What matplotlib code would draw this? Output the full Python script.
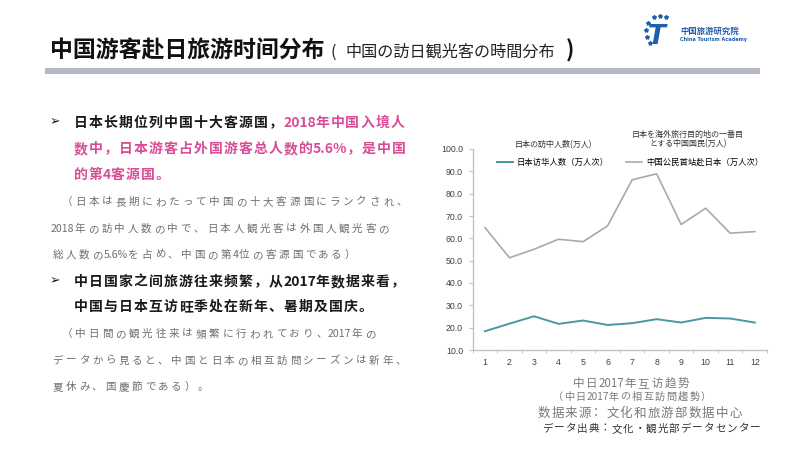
import matplotlib
matplotlib.use("Agg")
import matplotlib.pyplot as plt
from matplotlib.patches import Rectangle
from matplotlib.lines import Line2D

plt.rcParams['font.family'] = ['Noto Sans CJK SC', 'DejaVu Sans']
JP = ['Noto Sans CJK JP', 'DejaVu Sans']

# data (万人)
months = [1, 2, 3, 4, 5, 6, 7, 8, 9, 10, 11, 12]
jp_to_cn = [18.4, 21.8, 25.1, 21.7, 23.2, 21.2, 22.0, 23.8, 22.3, 24.4, 24.1, 22.3]
cn_to_jp = [64.8, 51.3, 55.1, 59.6, 58.5, 65.6, 86.2, 88.9, 66.2, 73.5, 62.3, 63.0]
yticks = [10, 20, 30, 40, 50, 60, 70, 80, 90, 100]
names = ['日本访华人数（万人次）', '中国公民首站赴日本（万人次）']

W, H = 800, 450
fig = plt.figure(figsize=(8, 4.5), dpi=100)
fig.patch.set_facecolor('white')
r = fig.canvas.get_renderer()


def px(x, y):
    return x / W, 1 - y / H


def spaced(x, y, s, size, color, pitch, weight='normal', family=None, style='normal'):
    # full width chars sit on a fixed pitch, ascii runs keep natural width
    fam = family if family else plt.rcParams['font.family']
    base = y + 0.36 * size * 100 / 72
    i = 0
    while i < len(s):
        if ord(s[i]) < 128:
            j = i
            while j < len(s) and ord(s[j]) < 128:
                j += 1
            t = fig.text(*px(x, base), s[i:j], fontsize=size, color=color, weight=weight,
                         family=fam, style=style, va='baseline', ha='left')
            x += t.get_window_extent(r).width - 1
            i = j
        else:
            fig.text(*px(x + pitch / 2, base), s[i], fontsize=size, color=color, weight=weight,
                     family=fam, style=style, va='baseline', ha='center')
            x += pitch
            i += 1
    return x


# title
fig.text(*px(50, 51), '中国游客赴日旅游时间分布', fontsize=16.5, weight='bold',
         color='#111111', va='center')
fig.text(*px(331, 52), '(', fontsize=12, color='#222222', va='center', family=JP)
fig.text(*px(345, 52), '中国の訪日観光客の時間分布', fontsize=11.6, color='#222222',
         va='center', family=JP)
fig.text(*px(566, 51), ')', fontsize=16, weight='bold', color='#111111', va='center')
fig.add_artist(Rectangle(px(45, 74), 715 / W, 6 / H, transform=fig.transFigure,
                         color='#b4b8c2', lw=0))

# logo
fig.text(*px(657, 37), 'T', fontsize=19, weight='bold', style='italic', color='#1f5fae',
         va='center', ha='center', family=['DejaVu Sans'])
star_x = [654, 660, 666, 648, 646, 647, 650]
star_y = [17, 16, 17, 23, 30, 37, 43]
fig.add_artist(Line2D([v / W for v in star_x], [1 - v / H for v in star_y], ls='none',
                      marker='*', ms=3, color='#1f5fae', transform=fig.transFigure))
fig.text(*px(680, 31), '中国旅游研究院', fontsize=6, weight='bold', color='#1f5fae', va='center')
fig.text(*px(680, 40), 'China Tourism Academy', fontsize=3.6, weight='bold', color='#1f5fae',
         va='center', family=['DejaVu Sans'])

# text block
black = '#1a1a1a'
pink = '#d84c98'
grey = '#707070'
for by in [122, 281]:
    fig.text(*px(50, by), '➢', fontsize=9, color=black, va='center', family=['DejaVu Sans'])

x = spaced(73, 122, '日本长期位列中国十大客源国，', 10, black, 15, 'bold')
spaced(x, 122, '2018年中国入境人', 10, pink, 15, 'bold')
spaced(73, 148, '数中，日本游客占外国游客总人数的5.6%，是中国', 10, pink, 15, 'bold')
spaced(73, 174, '的第4客源国。', 10, pink, 15, 'bold')
spaced(60, 201, '（日本は長期にわたって中国の十大客源国にランクされ、', 7.6, grey, 13.4, family=JP)
spaced(51, 228, '2018年の訪中人数の中で、日本人観光客は外国人観光客の', 7.6, grey, 13.2, family=JP)
spaced(51, 254, '総人数の5.6%を占め、中国の第4位の客源国である）', 7.6, grey, 13.2, family=JP)

spaced(73, 281, '中日国家之间旅游往来频繁，从2017年数据来看，', 10, black, 15, 'bold')
spaced(73, 306, '中国与日本互访旺季处在新年、暑期及国庆。', 10, black, 15, 'bold')
spaced(60, 333, '（中日間の観光往来は頻繁に行われており、2017年の', 7.6, grey, 13.4, family=JP)
spaced(51, 360, 'データから見ると、中国と日本の相互訪問シーズンは新年、', 7.6, grey, 13.2, family=JP)
spaced(51, 386, '夏休み、国慶節である）。', 7.6, grey, 13.2, family=JP)

# chart
ax = fig.add_axes([472.7 / W, 1 - 350 / H, (767 - 472.7) / W, (350 - 149) / H])
ax.plot(months, jp_to_cn, color='#4a97a6', lw=1.4, label=names[0])
ax.plot(months, cn_to_jp, color='#a9a9a9', lw=1.2, label=names[1])
ax.set_xlim(0.5, 12.5)
ax.set_ylim(10, 100)
ax.set_yticks(yticks)
ax.set_yticklabels(['%.1f' % v for v in yticks], family=['Liberation Sans'])
ax.set_xticks(months)
ax.set_xticklabels([str(m) for m in months], family=['Liberation Sans'])
ax.set_xticks([m - 0.5 for m in months] + [12.5], minor=True)
ax.tick_params(axis='x', which='major', length=0, pad=6, labelsize=6.3, colors='#404040')
ax.tick_params(axis='x', which='minor', length=2.5, color='#bfbfbf', direction='out')
ax.tick_params(axis='y', length=3, pad=4, labelsize=6.3, colors='#404040', color='#bfbfbf')
for s in ['top', 'right']:
    ax.spines[s].set_visible(False)
for s in ['left', 'bottom']:
    ax.spines[s].set_color('#bfbfbf')
    ax.spines[s].set_linewidth(0.9)

ax.legend(loc='center left', bbox_to_anchor=px(497, 162), bbox_transform=fig.transFigure,
          ncol=2, frameon=False, fontsize=6, handlelength=1.9, handletextpad=0.5,
          columnspacing=2.0, borderpad=0, borderaxespad=0)

fig.text(*px(553, 145), '日本の訪中人数(万人)', fontsize=5.8, color='#333333', ha='center',
         va='center', family=JP)
fig.text(*px(688, 134), '日本を海外旅行目的地の一番目', fontsize=5.8, color='#333333',
         ha='center', va='center', family=JP)
fig.text(*px(688, 144), 'とする中国国民(万人)', fontsize=5.8, color='#333333', ha='center',
         va='center', family=JP)

# caption
cap = '#7a7a7a'
spaced(572, 383, '中日2017年互访趋势', 8.3, cap, 13.4)
spaced(552, 396, '（中日2017年の相互訪問趨勢）', 7.3, cap, 11.5, family=JP)
spaced(537, 412, '数据来源：文化和旅游部数据中心', 9, cap, 13.7)
spaced(542, 428, 'データ出典：文化・観光部データセンター', 7.6, '#333333', 11.5, family=JP,
       style='italic')

fig.savefig('out.png', dpi=100, facecolor='white')
